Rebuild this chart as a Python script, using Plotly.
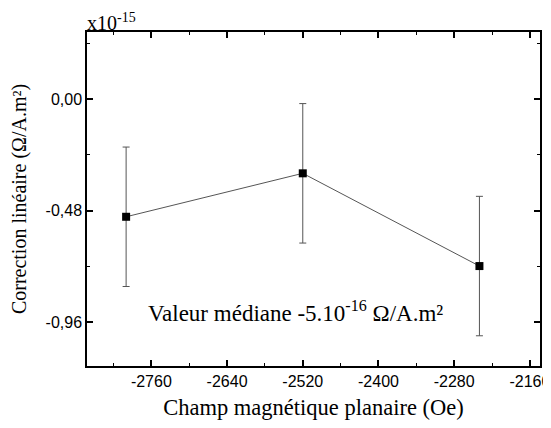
import plotly.graph_objects as go

# champ planaire (Oe) et correction linéaire (x1e-15 Ω/A.m²)
champ = [-2800, -2520, -2240]
correction = [-0.507, -0.320, -0.719]
erreur = [0.30, 0.30, 0.30]

x_ticks = [-2760, -2640, -2520, -2400, -2280, -2160]
y_ticks = [0.0, -0.48, -0.96]
y_labels = ['0,00', '-0,48', '-0,96']

serif = 'Times New Roman, Liberation Serif, serif'
sans = 'Arial, Liberation Sans, sans-serif'

fig = go.Figure()
fig.add_trace(go.Scatter(
    x=champ, y=correction, mode='lines+markers',
    line=dict(color='#555555', width=1),
    marker=dict(symbol='square', size=8, color='black'),
    error_y=dict(type='data', array=erreur, visible=True,
                 color='#555555', thickness=1, width=3.5),
    showlegend=False))

axis_common = dict(showline=True, linecolor='black', linewidth=1.5,
                   mirror='allticks', ticks='inside', ticklen=6,
                   tickcolor='black', tickwidth=1.5, showgrid=False,
                   zeroline=False, automargin=False,
                   tickfont=dict(family=sans, size=16, color='black'))

fig.update_xaxes(range=[-2862, -2144], tickvals=x_ticks,
                 ticktext=[str(v) for v in x_ticks],
                 minor=dict(ticks='inside', ticklen=3, tickcolor='black',
                            tickwidth=1, dtick=60, tick0=-2820, showgrid=False),
                 title=dict(text='Champ magnétique planaire (Oe)',
                            font=dict(family=serif, size=22.5, color='black'),
                            standoff=10),
                 **axis_common)
fig.update_yaxes(range=[-1.149, 0.288], tickvals=y_ticks, ticktext=y_labels,
                 minor=dict(ticks='inside', ticklen=3, tickcolor='black',
                            tickwidth=1, dtick=0.24, tick0=0.24, showgrid=False),
                 title=dict(text='Correction linéaire (Ω/A.m²)',
                            font=dict(family=serif, size=20, color='black'),
                            standoff=18),
                 **axis_common)

fig.add_annotation(x=0, y=1, xref='paper', yref='paper', xanchor='left',
                   yanchor='bottom', xshift=-2, yshift=-4, showarrow=False,
                   text='x10<sup>-15</sup>',
                   font=dict(family=serif, size=20, color='black'))
fig.add_annotation(x=-2532, y=-0.913, xref='x', yref='y', showarrow=False,
                   text='Valeur médiane -5.10<sup>-16</sup> Ω/A.m²',
                   font=dict(family=serif, size=23, color='black'))

# la page html garde une marge de 8 px autour de la figure
fig.update_layout(width=543, height=420, plot_bgcolor='white',
                  paper_bgcolor='white',
                  margin=dict(l=79, r=11, t=24, b=62))

fig.write_html("out.html")
